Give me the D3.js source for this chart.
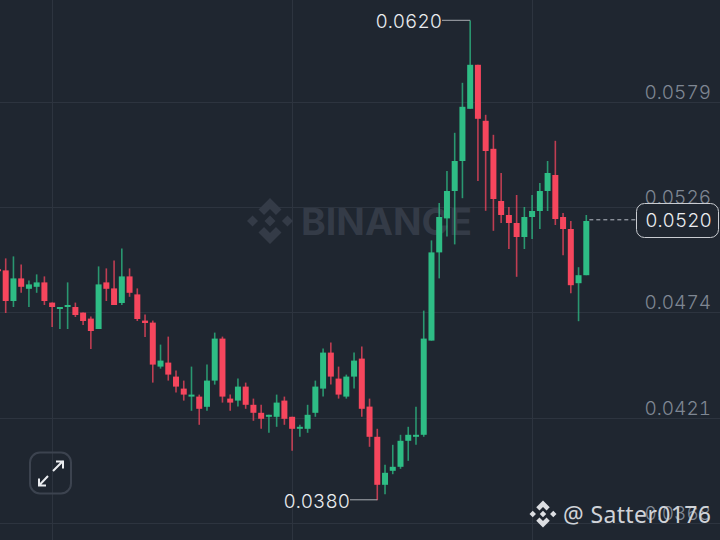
<!DOCTYPE html>
<html>
<head>
<meta charset="utf-8">
<script src="https://cdn.jsdelivr.net/npm/d3@7"></script>
<style>
  html, body { margin: 0; padding: 0; background: #1f2630; }
  svg { display: block; }
  text { font-family: Inter, sans-serif; font-variant-numeric: tabular-nums; }
  .tick-label { fill: #7f8793; font-size: 19px; font-weight: 300; }
  .price-label { fill: #eaecef; font-size: 19px; font-weight: 300; }
</style>
</head>
<body>
<svg width="720" height="540"></svg>
<script>
// candle values; the first candle is almost off the left edge
var opens = [0.04953,0.04947,0.04794,0.04907,0.04855,0.04865,0.04887,0.04786,0.04754,0.04764,0.04764,0.04736,0.04706,0.04654,0.04887,0.04857,0.04784,0.04917,0.04827,0.04696,0.04686,0.04466,0.04486,0.04416,0.04356,0.04316,0.04316,0.04265,0.04396,0.04606,0.04306,0.04296,0.04366,0.04275,0.04235,0.04215,0.04215,0.04296,0.04215,0.04155,0.04155,0.04235,0.04356,0.04536,0.04406,0.04316,0.04416,0.04506,0.04266,0.04115,0.03875,0.03945,0.03965,0.04095,0.04115,0.04125,0.04596,0.05037,0.05207,0.05344,0.05494,0.05755,0.05975,0.05695,0.05555,0.05294,0.05224,0.05184,0.05114,0.05214,0.05244,0.05344,0.05424,0.05214,0.05154,0.04883,0.04923];
var highs = [0.04953,0.05007,0.05017,0.04977,0.04897,0.04927,0.04917,0.04786,0.04764,0.04887,0.04786,0.04736,0.04716,0.04967,0.04957,0.04997,0.05057,0.04957,0.04857,0.04726,0.04696,0.04576,0.04616,0.04446,0.04396,0.04466,0.04326,0.04476,0.04636,0.04616,0.04326,0.04406,0.04386,0.04306,0.04275,0.04225,0.04326,0.04316,0.04215,0.04175,0.04275,0.04396,0.04556,0.04586,0.04466,0.04426,0.04536,0.04566,0.04306,0.04155,0.03975,0.04075,0.04125,0.04165,0.04265,0.04746,0.05097,0.05284,0.05444,0.05635,0.05885,0.06196,0.05975,0.05725,0.05625,0.05434,0.05264,0.05324,0.05264,0.05324,0.05384,0.05494,0.05595,0.05234,0.05194,0.04963,0.05224];
var lows = [0.04943,0.04734,0.04764,0.04835,0.04764,0.04835,0.04774,0.04664,0.04654,0.04654,0.04714,0.04674,0.04554,0.04654,0.04794,0.04774,0.04774,0.04815,0.04694,0.04614,0.04386,0.04456,0.04396,0.04336,0.04296,0.04245,0.04175,0.04245,0.04376,0.04286,0.04245,0.04266,0.04255,0.04195,0.04155,0.04135,0.04165,0.04175,0.04045,0.04115,0.04135,0.04215,0.04316,0.04376,0.04306,0.04306,0.04356,0.04215,0.04065,0.03798,0.03828,0.03928,0.03955,0.03995,0.04075,0.04115,0.04596,0.04907,0.05117,0.05077,0.05308,0.05755,0.05394,0.05245,0.05145,0.05184,0.05054,0.04915,0.05054,0.05104,0.05154,0.05244,0.05174,0.05023,0.04833,0.04693,0.04923];
var closes = [0.04943,0.04794,0.04907,0.04865,0.04877,0.04887,0.04794,0.04764,0.04764,0.04774,0.04724,0.04694,0.04644,0.04877,0.04855,0.04774,0.04917,0.04835,0.04704,0.04684,0.04476,0.04496,0.04426,0.04366,0.04326,0.04326,0.04255,0.04396,0.04606,0.04316,0.04286,0.04366,0.04275,0.04235,0.04205,0.04225,0.04286,0.04205,0.04155,0.04165,0.04225,0.04366,0.04536,0.04416,0.04326,0.04416,0.04496,0.04255,0.04115,0.03875,0.03935,0.03965,0.04095,0.04125,0.04125,0.04606,0.05037,0.05214,0.05344,0.05494,0.05765,0.05975,0.05705,0.05544,0.05304,0.05224,0.05184,0.05114,0.05214,0.05244,0.05344,0.05434,0.05204,0.05154,0.04873,0.04923,0.05194];

// the axis steps evenly, the labels only show four decimals
var priceTicks = [0.05789, 0.05263, 0.04737, 0.04211, 0.03684];
var gridCandles = [7, 38, 69]; // candles the vertical grid lines sit on
var highestPrice = 0.0620;
var lowestPrice = 0.0380;
var highestCandle = 61;
var lowestCandle = 49;
var lastPrice = 0.0520;

var candles = d3.range(opens.length).map(function(i) {
    return { i: i, open: opens[i], high: highs[i], low: lows[i], close: closes[i] };
});

var xScale = d3.scaleLinear()
    .domain([0, opens.length - 1])
    .range([-2.04, 586.3]);
var yScale = d3.scaleLinear()
    .domain([0.03684, 0.05789])
    .range([523, 102]);

var GREEN = '#2ebd85';
var RED = '#f6465d';
var GRID = '#2d343f';
var BG = '#1f2630';
var fmt = d3.format('.4f');

var svg = d3.select('svg');

svg.append('rect')
    .attr('width', 720)
    .attr('height', 540)
    .attr('fill', BG);

// grid
svg.append('g').selectAll('line')
    .data(priceTicks)
    .enter()
    .append('line')
    .attr('x1', 0)
    .attr('x2', 720)
    .attr('y1', function(d) { return Math.round(yScale(d)) + 0.5; })
    .attr('y2', function(d) { return Math.round(yScale(d)) + 0.5; })
    .attr('stroke', GRID);

svg.append('g').selectAll('line')
    .data(gridCandles)
    .enter()
    .append('line')
    .attr('x1', function(d) { return Math.round(xScale(d)) + 0.5; })
    .attr('x2', function(d) { return Math.round(xScale(d)) + 0.5; })
    .attr('y1', 0)
    .attr('y2', 540)
    .attr('stroke', GRID);

// the binance mark: centre + two side diamonds + two chevrons, unit half width 1
function drawLogo(parent, cx, cy, size, fill) {
    var d = 'M0,-0.24L0.24,0L0,0.24L-0.24,0Z'
        + 'M-0.76,-0.24L-0.52,0L-0.76,0.24L-1,0Z'
        + 'M0.76,-0.24L1,0L0.76,0.24L0.52,0Z'
        + 'M0,-1L0.5,-0.5L0.26,-0.26L0,-0.52L-0.26,-0.26L-0.5,-0.5Z'
        + 'M0,1L0.5,0.5L0.26,0.26L0,0.52L-0.26,0.26L-0.5,0.5Z';
    parent.append('path')
        .attr('transform', 'translate(' + cx + ',' + cy + ') scale(' + size + ')')
        .attr('d', d)
        .attr('fill', fill);
}

// watermark
drawLogo(svg, 270, 221, 23, '#343b47');
svg.append('text')
    .attr('x', 301)
    .attr('y', 235)
    .attr('textLength', 171)
    .attr('lengthAdjust', 'spacingAndGlyphs')
    .style('font-family', 'Inter, sans-serif')
    .style('font-weight', 700)
    .style('font-size', '37px')
    .attr('fill', '#343b47')
    .text('BINANCE');

// candles
var candle = svg.append('g').selectAll('g')
    .data(candles)
    .enter()
    .append('g');

candle.append('line')
    .attr('x1', function(d) { return xScale(d.i); })
    .attr('x2', function(d) { return xScale(d.i); })
    .attr('y1', function(d) { return yScale(d.high); })
    .attr('y2', function(d) { return yScale(d.low); })
    .attr('stroke', function(d) { return d.close >= d.open ? GREEN : RED; })
    .attr('stroke-opacity', 0.75)
    .attr('stroke-width', 1.6);

candle.append('rect')
    .attr('x', function(d) { return xScale(d.i) - 3; })
    .attr('width', 6)
    .attr('y', function(d) { return yScale(Math.max(d.open, d.close)); })
    .attr('height', function(d) { return Math.abs(yScale(d.open) - yScale(d.close)); })
    .attr('fill', function(d) { return d.close >= d.open ? GREEN : RED; });

// price labels
svg.append('g').selectAll('text')
    .data(priceTicks)
    .enter()
    .append('text')
    .attr('class', 'tick-label')
    .attr('x', 711)
    .attr('y', function(d) { return yScale(d) - 3; })
    .attr('text-anchor', 'end')
    .text(fmt);

// high and low leaders
svg.append('line')
    .attr('x1', xScale(highestCandle))
    .attr('x2', 442)
    .attr('y1', yScale(highestPrice) + 0.5)
    .attr('y2', yScale(highestPrice) + 0.5)
    .attr('stroke', '#a9adb3');
svg.append('text')
    .attr('class', 'price-label')
    .attr('x', 442)
    .attr('y', yScale(highestPrice) + 8)
    .attr('text-anchor', 'end')
    .text(fmt(highestPrice));

svg.append('line')
    .attr('x1', xScale(lowestCandle))
    .attr('x2', 350)
    .attr('y1', yScale(lowestPrice))
    .attr('y2', yScale(lowestPrice))
    .attr('stroke', '#a9adb3');
svg.append('text')
    .attr('class', 'price-label')
    .attr('x', 350)
    .attr('y', yScale(lowestPrice) + 8)
    .attr('text-anchor', 'end')
    .text(fmt(lowestPrice));

// last price
svg.append('line')
    .attr('x1', xScale(opens.length - 1) + 3)
    .attr('x2', 637)
    .attr('y1', yScale(lastPrice))
    .attr('y2', yScale(lastPrice))
    .attr('stroke', '#b7bdc6')
    .attr('stroke-dasharray', '4 3');
svg.append('rect')
    .attr('x', 636.5)
    .attr('y', 203.5)
    .attr('width', 82)
    .attr('height', 34)
    .attr('rx', 8)
    .attr('fill', BG)
    .attr('stroke', '#c9ccd1');
svg.append('text')
    .attr('class', 'price-label')
    .attr('x', 678.5)
    .attr('y', 227)
    .attr('text-anchor', 'middle')
    .text(fmt(lastPrice));

// expand button
svg.append('rect')
    .attr('x', 30)
    .attr('y', 452.5)
    .attr('width', 41)
    .attr('height', 41)
    .attr('rx', 10)
    .attr('fill', 'none')
    .attr('stroke', '#3c434f')
    .attr('stroke-width', 2);
svg.append('path')
    .attr('d', 'M53,471L63,461M56,461.5H63V468.5M48,476L39,485.5M39,478.5V485.5H46')
    .attr('fill', 'none')
    .attr('stroke', '#eaecef')
    .attr('stroke-width', 2);

// footer
drawLogo(svg, 543, 514, 13.5, '#dcdee2');
svg.append('text')
    .attr('x', 563)
    .attr('y', 523)
    .style('font-family', '"Noto Sans", sans-serif')
    .style('font-size', '23px')
    .attr('textLength', 148)
    .attr('fill', '#d0d3d8')
    .text('@ Satter0176');
</script>
</body>
</html>
